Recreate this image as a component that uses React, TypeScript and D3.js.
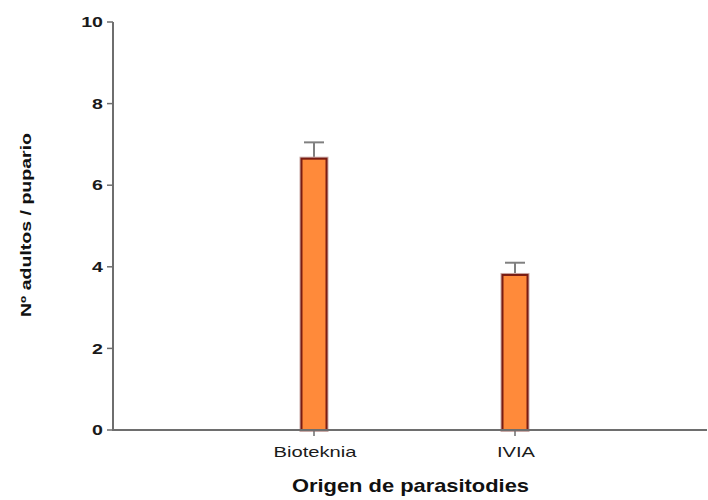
import React from "react";
import * as d3 from "d3";

const categories = ["Bioteknia", "IVIA"];
const means = [6.65, 3.8];
const errors = [0.4, 0.3];
const yTicks = [0, 2, 4, 6, 8, 10];

const W = 708;
const H = 500;
const x0 = 113;
const yTop = 22;
const yBottom = 430;

const catLabelWidths = [83, 38];

export default function App() {
  const x = d3.scalePoint<string>().domain(categories).range([x0, 716]).padding(1);
  const y = d3.scaleLinear().domain([0, 10]).range([yBottom, yTop]);
  const bw = 25;
  const axisColor = "#6e6e6e";
  const font = "Liberation Sans, Arial, sans-serif";
  return (
    <svg
      width={W}
      height={H}
      style={{ position: "absolute", left: 0, top: 0, background: "#fff" }}
      fontFamily={font}
    >
      {categories.map((c, i) => {
        const cx = x(c)!;
        const top = y(means[i]);
        const etop = y(means[i] + errors[i]);
        return (
          <g key={c}>
            <line x1={cx} x2={cx} y1={top} y2={etop} stroke="#808080" strokeWidth={2} />
            <line x1={cx - 10} x2={cx + 10} y1={etop} y2={etop} stroke="#808080" strokeWidth={2} />
            <rect
              x={cx - bw / 2}
              y={top}
              width={bw}
              height={yBottom - top}
              fill="#ff8a3a"
              stroke="#c9a9a6"
              strokeWidth={4}
            />
            <rect
              x={cx - bw / 2}
              y={top}
              width={bw}
              height={yBottom - top}
              fill="#ff8a3a"
              stroke="#7a1c12"
              strokeWidth={2}
            />
            <line x1={cx} x2={cx} y1={yBottom} y2={yBottom + 6} stroke={axisColor} strokeWidth={1.5} />
            <text
              x={cx - catLabelWidths[i] / 2 + 1}
              y={457}
              fontSize={14.5}
              fill="#1a1a1a"
              textLength={catLabelWidths[i]}
              lengthAdjust="spacingAndGlyphs"
            >
              {c}
            </text>
          </g>
        );
      })}
      <line x1={x0} x2={x0} y1={yTop} y2={yBottom + 1} stroke={axisColor} strokeWidth={2} />
      <line x1={x0} x2={707} y1={yBottom} y2={yBottom} stroke={axisColor} strokeWidth={2} />
      {yTicks.map((t) => (
        <g key={t}>
          <line x1={x0 - 6} x2={x0} y1={y(t)} y2={y(t)} stroke={axisColor} strokeWidth={1.5} />
          <text
            transform={`translate(${x0 - 10}, ${y(t)}) scale(1.35, 1)`}
            dy="0.36em"
            textAnchor="end"
            fontSize={14.5}
            fontWeight="bold"
            fill="#1a1a1a"
          >
            {t}
          </text>
        </g>
      ))}
      <text
        transform={`translate(31, 317) rotate(-90)`}
        fontSize={14.5}
        fontWeight="bold"
        fill="#111"
        textLength={184}
        lengthAdjust="spacingAndGlyphs"
      >
        Nº adultos / pupario
      </text>
      <text
        x={292}
        y={492}
        fontSize={18.5}
        fontWeight="bold"
        fill="#111"
        textLength={237}
        lengthAdjust="spacingAndGlyphs"
      >
        Origen de parasitodies
      </text>
    </svg>
  );
}
